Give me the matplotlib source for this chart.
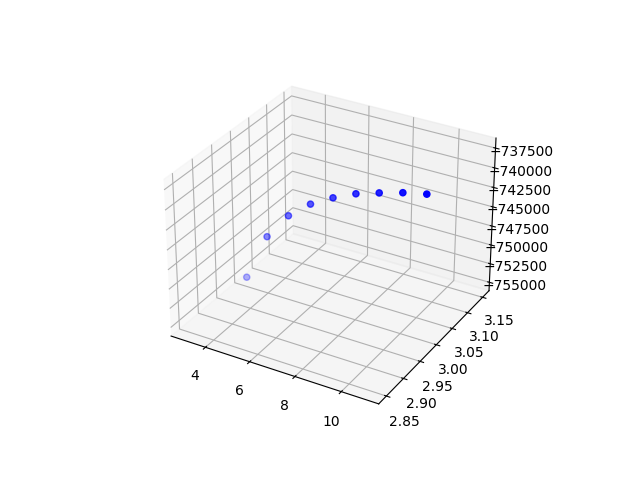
import matplotlib
matplotlib.use('Agg')
import matplotlib.pyplot as plt

# k values and the two metrics
k = [3, 4, 5, 6, 7, 8, 9, 10, 11]
score = [3.0, 3.0, 3.0, 3.0, 3.0, 3.0, 3.0, 3.0, 3.0]
loss = [-754870, -748600, -745050, -742750, -741150, -739850, -738950, -738130, -737510]

fig = plt.figure()
ax = fig.add_subplot(projection='3d')
ax.scatter(k, score, loss, c='b')

plt.savefig('out.png')
